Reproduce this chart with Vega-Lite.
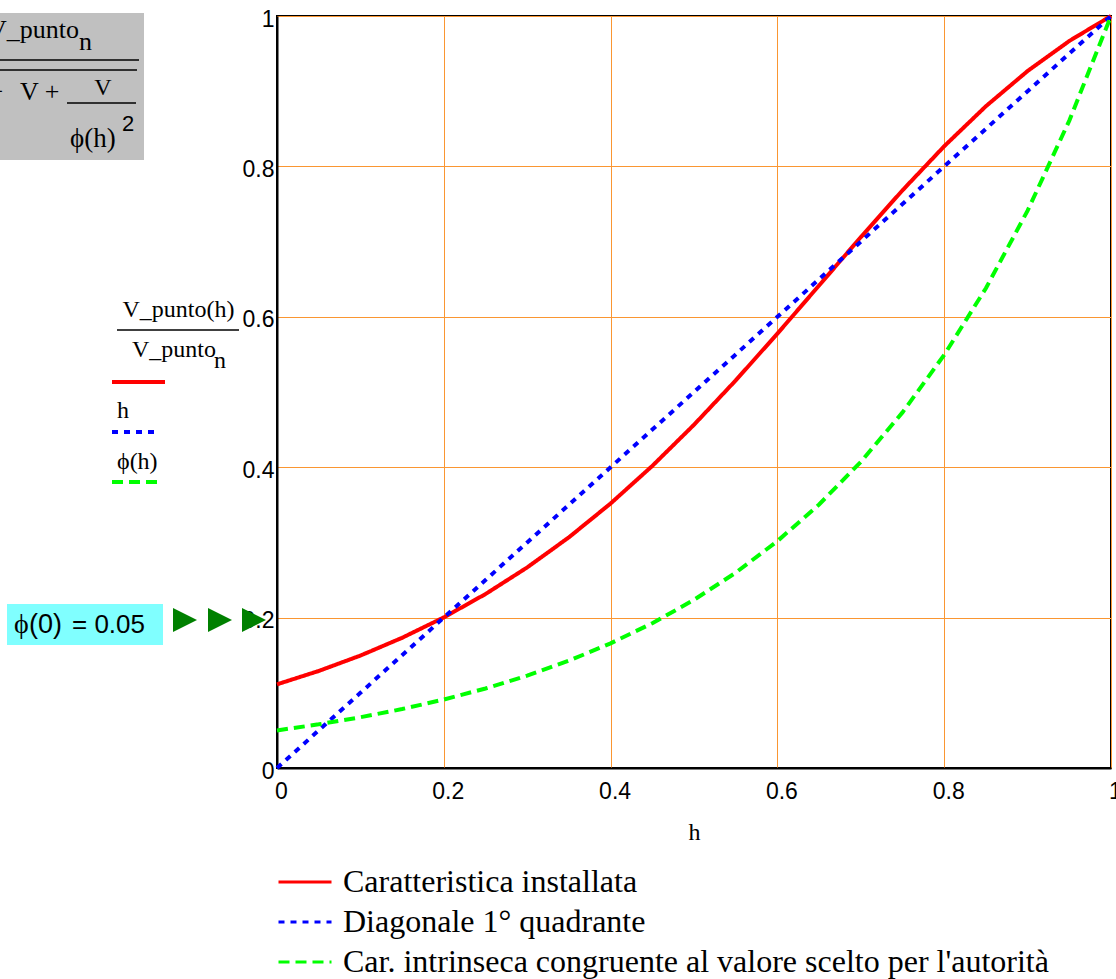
{
  "$schema": "https://vega.github.io/schema/vega-lite/v6.json",
  "width": 834,
  "height": 752,
  "autosize": {"type": "none"},
  "padding": {"left": 277, "top": 16, "right": 5, "bottom": 211},
  "background": "white",
  "config": {
    "view": {"stroke": "black", "strokeWidth": 2},
    "axis": {
      "labelFont": "Liberation Sans",
      "labelFontSize": 23,
      "labelColor": "black",
      "ticks": false,
      "domainColor": "black",
      "domainWidth": 2,
      "gridColor": "#FA9632",
      "gridWidth": 1,
      "gridOpacity": 1,
      "labelFlush": false
    }
  },
  "datasets": {
    "curves": [
      {"h": 0, "inst": 0.11125, "diag": 0, "intr": 0.05},
      {"h": 0.05, "inst": 0.12901, "diag": 0.05, "intr": 0.05808},
      {"h": 0.1, "inst": 0.1495, "diag": 0.1, "intr": 0.06746},
      {"h": 0.15, "inst": 0.17312, "diag": 0.15, "intr": 0.07837},
      {"h": 0.2, "inst": 0.20025, "diag": 0.2, "intr": 0.09103},
      {"h": 0.25, "inst": 0.23132, "diag": 0.25, "intr": 0.10574},
      {"h": 0.3, "inst": 0.26671, "diag": 0.3, "intr": 0.12282},
      {"h": 0.35, "inst": 0.30677, "diag": 0.35, "intr": 0.14267},
      {"h": 0.4, "inst": 0.35175, "diag": 0.4, "intr": 0.16572},
      {"h": 0.45, "inst": 0.4017, "diag": 0.45, "intr": 0.1925},
      {"h": 0.5, "inst": 0.45644, "diag": 0.5, "intr": 0.22361},
      {"h": 0.55, "inst": 0.51541, "diag": 0.55, "intr": 0.25974},
      {"h": 0.6, "inst": 0.57763, "diag": 0.6, "intr": 0.30171},
      {"h": 0.65, "inst": 0.64172, "diag": 0.65, "intr": 0.35046},
      {"h": 0.7, "inst": 0.7059, "diag": 0.7, "intr": 0.40709},
      {"h": 0.75, "inst": 0.76822, "diag": 0.75, "intr": 0.47287},
      {"h": 0.8, "inst": 0.82679, "diag": 0.8, "intr": 0.54928},
      {"h": 0.85, "inst": 0.88001, "diag": 0.85, "intr": 0.63804},
      {"h": 0.9, "inst": 0.92684, "diag": 0.9, "intr": 0.74113},
      {"h": 0.95, "inst": 0.9668, "diag": 0.95, "intr": 0.86089},
      {"h": 1, "inst": 1, "diag": 1, "intr": 1}
    ],
    "one": [{}]
  },
  "layer": [
    {
      "data": {"name": "curves"},
      "transform": [{"fold": ["inst", "diag", "intr"], "as": ["serie", "v"]}],
      "mark": {"type": "line", "strokeWidth": 4, "strokeCap": "butt", "clip": false},
      "encoding": {
        "x": {
          "field": "h", "type": "quantitative",
          "scale": {"domain": [0, 1], "nice": false, "zero": false},
          "axis": {"values": [0, 0.2, 0.4, 0.6, 0.8, 1], "grid": true, "format": "~g", "labelOffset": 4, "labelPadding": 12,
                   "title": "h", "titleFont": "Liberation Serif", "titleFontSize": 24, "titleFontWeight": "normal", "titleColor": "black", "titlePadding": 17}
        },
        "y": {
          "field": "v", "type": "quantitative",
          "scale": {"domain": [0, 1], "nice": false, "zero": false},
          "axis": {"values": [0, 0.2, 0.4, 0.6, 0.8, 1], "grid": true, "format": "~g", "labelPadding": 3, "labelOffset": 3, "title": null}
        },
        "color": {
          "field": "serie", "type": "nominal",
          "scale": {"domain": ["inst", "diag", "intr"], "range": ["#FF0000", "#0000FF", "#00FF00"]},
          "legend": {
            "title": null, "orient": "none", "legendX": 0, "legendY": 846,
            "symbolType": "stroke", "symbolSize": 2809, "symbolStrokeWidth": 3,
            "labelFont": "Liberation Serif", "labelFontSize": 32, "labelColor": "black", "labelOffset": 10,
            "labelLimit": 1000, "rowPadding": 0, "clipHeight": 40, "padding": 0,
            "labelExpr": "datum.label == 'inst' ? 'Caratteristica installata' : datum.label == 'diag' ? 'Diagonale 1° quadrante' : \"Car. intrinseca congruente al valore scelto per l'autorità\""
          }
        },
        "strokeDash": {
          "field": "serie", "type": "nominal",
          "scale": {"domain": ["inst", "diag", "intr"], "range": [[1, 0], [6, 6], [11, 6]]},
          "legend": {
            "title": null, "orient": "none", "legendX": 0, "legendY": 846,
            "symbolType": "stroke", "symbolSize": 2809, "symbolStrokeWidth": 3,
            "labelFont": "Liberation Serif", "labelFontSize": 32, "labelColor": "black", "labelOffset": 10,
            "labelLimit": 1000, "rowPadding": 0, "clipHeight": 40, "padding": 0,
            "labelExpr": "datum.label == 'inst' ? 'Caratteristica installata' : datum.label == 'diag' ? 'Diagonale 1° quadrante' : \"Car. intrinseca congruente al valore scelto per l'autorità\""
          }
        }
      }
    },
    {"data": {"name": "one"}, "mark": {"type": "rect", "color": "#C0C0C0", "clip": false},
     "encoding": {"x": {"datum": -0.33213}, "x2": {"datum": -0.15947}, "y": {"datum": 1.00399}, "y2": {"datum": 0.80851}}},
    {"data": {"name": "one"}, "mark": {"type": "text", "text": "V_punto", "font": "Liberation Serif", "fontSize": 26, "align": "left", "baseline": "alphabetic", "color": "black", "clip": false},
     "encoding": {"x": {"datum": -0.34652}, "y": {"datum": 0.97074}}},
    {"data": {"name": "one"}, "mark": {"type": "text", "text": "n", "font": "Liberation Serif", "fontSize": 26, "align": "left", "baseline": "alphabetic", "color": "black", "clip": false},
     "encoding": {"x": {"datum": -0.23741}, "y": {"datum": 0.95479}}},
    {"data": {"name": "one"}, "mark": {"type": "rule", "color": "black", "strokeWidth": 1.5, "clip": false},
     "encoding": {"x": {"datum": -0.33213}, "x2": {"datum": -0.16547}, "y": {"datum": 0.94149}}},
    {"data": {"name": "one"}, "mark": {"type": "rule", "color": "black", "strokeWidth": 1.5, "clip": false},
     "encoding": {"x": {"datum": -0.33213}, "x2": {"datum": -0.16787}, "y": {"datum": 0.92819}}},
    {"data": {"name": "one"}, "mark": {"type": "text", "text": "−", "font": "Liberation Serif", "fontSize": 26, "align": "right", "baseline": "alphabetic", "color": "black", "clip": false},
     "encoding": {"x": {"datum": -0.32794}, "y": {"datum": 0.8883}}},
    {"data": {"name": "one"}, "mark": {"type": "text", "text": "V +", "font": "Liberation Serif", "fontSize": 26, "align": "left", "baseline": "alphabetic", "color": "black", "clip": false},
     "encoding": {"x": {"datum": -0.30815}, "y": {"datum": 0.8883}}},
    {"data": {"name": "one"}, "mark": {"type": "text", "text": "V", "font": "Liberation Serif", "fontSize": 24, "align": "center", "baseline": "alphabetic", "color": "black", "clip": false},
     "encoding": {"x": {"datum": -0.20863}, "y": {"datum": 0.89495}}},
    {"data": {"name": "one"}, "mark": {"type": "rule", "color": "black", "strokeWidth": 1.5, "clip": false},
     "encoding": {"x": {"datum": -0.2518}, "x2": {"datum": -0.16906}, "y": {"datum": 0.88431}}},
    {"data": {"name": "one"}, "mark": {"type": "text", "text": "ϕ(h)", "font": "Liberation Serif", "fontSize": 27, "align": "left", "baseline": "alphabetic", "color": "black", "clip": false},
     "encoding": {"x": {"datum": -0.2482}, "y": {"datum": 0.8258}}},
    {"data": {"name": "one"}, "mark": {"type": "text", "text": "2", "font": "Liberation Sans", "fontSize": 22, "align": "left", "baseline": "alphabetic", "color": "black", "clip": false},
     "encoding": {"x": {"datum": -0.18585}, "y": {"datum": 0.84707}}},
    {"data": {"name": "one"}, "mark": {"type": "text", "text": "V_punto(h)", "font": "Liberation Serif", "fontSize": 24, "align": "center", "baseline": "alphabetic", "color": "black", "clip": false},
     "encoding": {"x": {"datum": -0.11811}, "y": {"datum": 0.59973}}},
    {"data": {"name": "one"}, "mark": {"type": "rule", "color": "black", "strokeWidth": 1.5, "clip": false},
     "encoding": {"x": {"datum": -0.19185}, "x2": {"datum": -0.04556}, "y": {"datum": 0.58245}}},
    {"data": {"name": "one"}, "mark": {"type": "text", "text": "V_punto", "font": "Liberation Serif", "fontSize": 24, "align": "left", "baseline": "alphabetic", "color": "black", "clip": false},
     "encoding": {"x": {"datum": -0.17386}, "y": {"datum": 0.54654}}},
    {"data": {"name": "one"}, "mark": {"type": "text", "text": "n", "font": "Liberation Serif", "fontSize": 24, "align": "left", "baseline": "alphabetic", "color": "black", "clip": false},
     "encoding": {"x": {"datum": -0.07554}, "y": {"datum": 0.53191}}},
    {"data": {"name": "one"}, "mark": {"type": "rule", "color": "#FF0000", "strokeWidth": 4, "clip": false},
     "encoding": {"x": {"datum": -0.19784}, "x2": {"datum": -0.13429}, "y": {"datum": 0.5133}}},
    {"data": {"name": "one"}, "mark": {"type": "text", "text": "h", "font": "Liberation Serif", "fontSize": 24, "align": "left", "baseline": "alphabetic", "color": "black", "clip": false},
     "encoding": {"x": {"datum": -0.19185}, "y": {"datum": 0.46543}}},
    {"data": {"name": "one"}, "mark": {"type": "rule", "color": "#0000FF", "strokeWidth": 4, "strokeDash": [6, 6], "clip": false},
     "encoding": {"x": {"datum": -0.19784}, "x2": {"datum": -0.14388}, "y": {"datum": 0.44681}}},
    {"data": {"name": "one"}, "mark": {"type": "text", "text": "ϕ(h)", "font": "Liberation Serif", "fontSize": 24, "align": "left", "baseline": "alphabetic", "color": "black", "clip": false},
     "encoding": {"x": {"datum": -0.19185}, "y": {"datum": 0.39761}}},
    {"data": {"name": "one"}, "mark": {"type": "rule", "color": "#00FF00", "strokeWidth": 4, "strokeDash": [11, 6], "clip": false},
     "encoding": {"x": {"datum": -0.19784}, "x2": {"datum": -0.14388}, "y": {"datum": 0.38032}}},
    {"data": {"name": "one"}, "mark": {"type": "rect", "color": "#80FFFF", "clip": false},
     "encoding": {"x": {"datum": -0.32374}, "x2": {"datum": -0.13669}, "y": {"datum": 0.21809}, "y2": {"datum": 0.16356}}},
    {"data": {"name": "one"}, "mark": {"type": "text", "text": "ϕ", "font": "Liberation Serif", "fontSize": 28, "align": "left", "baseline": "alphabetic", "color": "black", "clip": false},
     "encoding": {"x": {"datum": -0.31535}, "y": {"datum": 0.17952}}},
    {"data": {"name": "one"}, "mark": {"type": "text", "text": "(0)", "font": "Liberation Sans", "fontSize": 27, "align": "left", "baseline": "alphabetic", "color": "black", "clip": false},
     "encoding": {"x": {"datum": -0.29736}, "y": {"datum": 0.17952}}},
    {"data": {"name": "one"}, "mark": {"type": "text", "text": "= 0.05", "font": "Liberation Sans", "fontSize": 26, "align": "left", "baseline": "alphabetic", "color": "black", "clip": false},
     "encoding": {"x": {"datum": -0.2458}, "y": {"datum": 0.17952}}},
    {"data": {"name": "one"}, "mark": {"type": "point", "shape": "M-1,-1L1,0L-1,1Z", "size": 576, "filled": true, "color": "#008000", "opacity": 1, "clip": false},
     "encoding": {"x": {"datum": -0.11031}, "y": {"datum": 0.19681}}},
    {"data": {"name": "one"}, "mark": {"type": "point", "shape": "M-1,-1L1,0L-1,1Z", "size": 576, "filled": true, "color": "#008000", "opacity": 1, "clip": false},
     "encoding": {"x": {"datum": -0.06835}, "y": {"datum": 0.19681}}},
    {"data": {"name": "one"}, "mark": {"type": "point", "shape": "M-1,-1L1,0L-1,1Z", "size": 576, "filled": true, "color": "#008000", "opacity": 1, "clip": false},
     "encoding": {"x": {"datum": -0.02758}, "y": {"datum": 0.19681}}}
  ]
}
